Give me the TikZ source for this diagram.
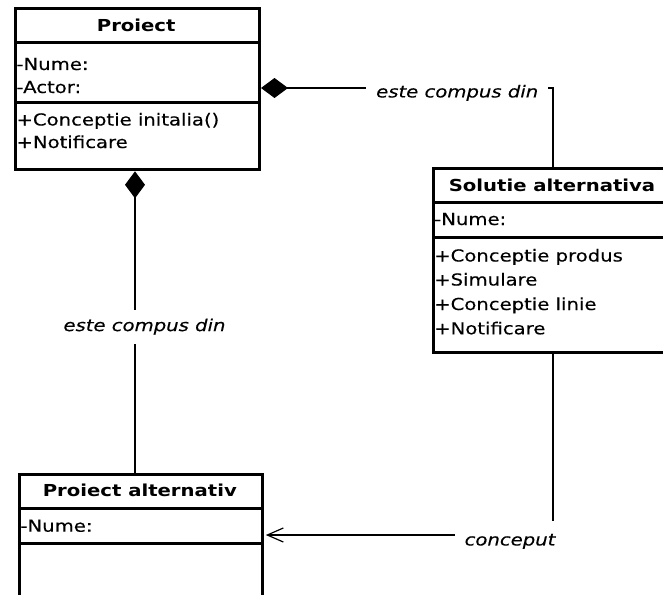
\documentclass[tikz,border=0pt]{standalone}
\usepackage{fontspec}
\setmainfont{DejaVu Sans}[FakeStretch=1.19,
  UprightFeatures={FakeBold=0.3},
  ItalicFeatures={FakeBold=0.3}]
\usetikzlibrary{arrows.meta}

\begin{document}
\begin{tikzpicture}[x=1pt,y=-1pt,
  classbox/.style={draw, line width=3pt, fill=white, inner sep=0pt, anchor=north west},
  sepline/.style={line width=3pt},
  classname/.style={font=\fontsize{16.5}{16.5}\selectfont\bfseries, anchor=base, inner sep=0pt},
  member/.style={font=\fontsize{16.5}{16.5}\selectfont, anchor=base west, inner sep=0pt},
  assoc/.style={line width=1.2pt},
  lbl/.style={font=\fontsize{16.5}{16.5}\selectfont\itshape, fill=white, inner xsep=10pt, inner ysep=9pt},
  compose/.style={assoc, {Diamond[length=27pt,width=20pt]}-},
  navig/.style={assoc, -{Straight Barb[length=16pt,width=14pt]}},
]
\clip (0,0) rectangle (663,594);

% class Proiect
\node[classbox, minimum width=243.7pt, minimum height=161.6pt] (proiect) at (14.3,6.7) {};
\draw[sepline] (proiect.west |- 0,42.3) -- (proiect.east |- 0,42.3);
\draw[sepline] (proiect.west |- 0,102.7) -- (proiect.east |- 0,102.7);
\node[classname] (proiect-name) at (136.2,31.7) {Proiect};
\node[member] (proiect-a1) at (16.3,70) {-Nume:};
\node[member] (proiect-a2) at (16.3,93) {-Actor:};
\node[member] (proiect-m1) at (16.3,125.5) {+Conceptie initalia()};
\node[member] (proiect-m2) at (16.3,148) {+Notificare};

% class Solutie alternativa
\node[classbox, minimum width=240pt, minimum height=184.1pt] (solutie) at (432,167.2) {};
\draw[sepline] (solutie.west |- 0,202) -- (solutie.east |- 0,202);
\draw[sepline] (solutie.west |- 0,237) -- (solutie.east |- 0,237);
\node[classname] (solutie-name) at (552,191.7) {Solutie alternativa};
\node[member] (solutie-a1) at (434,225) {-Nume:};
\node[member] (solutie-m1) at (434,261.5) {+Conceptie produs};
\node[member] (solutie-m2) at (434,285.5) {+Simulare};
\node[member] (solutie-m3) at (434,310) {+Conceptie linie};
\node[member] (solutie-m4) at (434,334.3) {+Notificare};

% class Proiect alternativ
\node[classbox, minimum width=243pt, minimum height=150pt] (projalt) at (18.3,473.3) {};
\draw[sepline] (projalt.west |- 0,508) -- (projalt.east |- 0,508);
\draw[sepline] (projalt.west |- 0,543) -- (projalt.east |- 0,543);
\node[classname] (projalt-name) at (139.8,496.7) {Proiect alternativ};
\node[member] (projalt-a1) at (20.3,531.7) {-Nume:};

% compositions
\draw[compose] (proiect.east |- 0,88) -| (solutie.north -| 553,0)
  node[lbl, pos=0.336, yshift=-4.9pt] (lbl-top) {este compus din};
\draw[compose] (proiect.south -| 135,0) -- (projalt.north -| 135,0)
  node[lbl, pos=0.514, xshift=9.5pt] (lbl-left) {este compus din};

% navigable association
\draw[navig] (solutie.south -| 553,0) |- ([xshift=1.5pt]projalt.east |- 0,535)
  node[lbl, pos=0.5, xshift=-43pt, yshift=-6.4pt, inner ysep=13pt] (lbl-bottom) {conceput};
\end{tikzpicture}
\end{document}
